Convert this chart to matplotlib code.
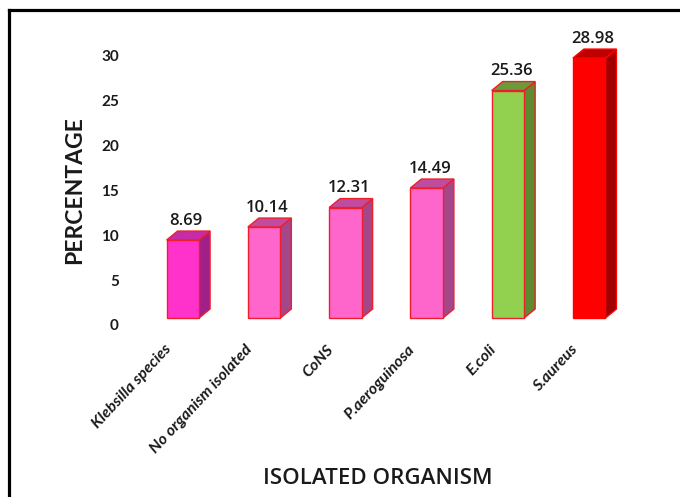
import numpy as np
import matplotlib
matplotlib.use('Agg')
import matplotlib.pyplot as plt
from matplotlib.patches import Polygon
from matplotlib.lines import Line2D
from matplotlib.transforms import ScaledTranslation

plt.rcParams['font.family'] = ['Lato', 'DejaVu Sans']

organisms = ['Klebsilla species', 'No organism isolated', 'CoNS',
             'P.aeroguinosa', 'E.coli', 'S.aureus']
percent = [8.69, 10.14, 12.31, 14.49, 25.36, 28.98]
value_labels = ['8.69', '10.14', '12.31', '14.49', '25.36', '28.98']
front_col = ['#FF33CC', '#FF66CC', '#FF66CC', '#FF66CC', '#92D050', '#FF0000']
top_col = ['#C62CA6', '#C04CA0', '#C04CA0', '#C04CA0', '#6C9A3A', '#C00000']
side_col = ['#A0208A', '#A3468A', '#A3468A', '#A3468A', '#5E8A30', '#A00000']
edge_col = ['#F01E2A'] * 5 + ['#FF0000']
yticks = [0, 5, 10, 15, 20, 25, 30]

W, H = 680, 497
fig = plt.figure(figsize=(W / 100, H / 100), dpi=100)
ax = fig.add_axes([130 / W, (H - 318) / H, 512 / W, 287 / H])
xlim = (-0.65, 5.65)
ylim = (0, 32)
ax.set_xlim(*xlim)
ax.set_ylim(*ylim)

# depth of the fake 3d bars, 11px right and 9px up, in data units
dx = 11 / 512 * (xlim[1] - xlim[0])
dy = 9 / 287 * (ylim[1] - ylim[0])
bw = 0.4

x = np.arange(len(organisms))
ax.bar(x, percent, width=bw, color=front_col, edgecolor=edge_col,
       linewidth=1.0, zorder=3, clip_on=False)
for i, v in enumerate(percent):
    l, r = x[i] - bw / 2, x[i] + bw / 2
    side = Polygon([(r, 0), (r, v), (r + dx, v + dy), (r + dx, dy)],
                   closed=True, facecolor=side_col[i], edgecolor=edge_col[i],
                   linewidth=1.0, zorder=2, clip_on=False)
    top = Polygon([(l, v), (r, v), (r + dx, v + dy), (l + dx, v + dy)],
                  closed=True, facecolor=top_col[i], edgecolor=edge_col[i],
                  linewidth=1.0, zorder=2, clip_on=False)
    ax.add_patch(side)
    ax.add_patch(top)
    ax.text(x[i] + dx * 0.3, v + dy + 0.25, value_labels[i], ha='center',
            va='bottom', fontsize=12, fontweight='semibold',
            family=['Open Sans', 'DejaVu Sans'], color='#1a1a1a', zorder=4)

for s in ax.spines.values():
    s.set_visible(False)
ax.tick_params(length=0)
ax.set_yticks(yticks)
ax.set_yticklabels([str(t) for t in yticks], fontsize=11, fontweight='bold',
                   color='#1a1a1a')
ax.tick_params(axis='y', pad=8)
off_y = ScaledTranslation(0, -0.07, fig.dpi_scale_trans)
for lab in ax.get_yticklabels():
    lab.set_transform(lab.get_transform() + off_y)

ax.set_xticks(x)
ax.set_xticklabels(organisms, rotation=47, ha='right', va='center',
                   rotation_mode='anchor', fontsize=11.5, fontweight='bold',
                   fontstyle='italic', color='#1a1a1a')
ax.tick_params(axis='x', pad=21)
off_x = ScaledTranslation(-0.14, 0, fig.dpi_scale_trans)
for lab in ax.get_xticklabels():
    lab.set_transform(lab.get_transform() + off_x)

fig.text(75 / W, 1 - 190 / H, 'PERCENTAGE', rotation=90, ha='center',
         va='center', fontsize=16.5, fontweight='bold', color='#1a1a1a')
fig.text(378 / W, 1 - 478 / H, 'ISOLATED ORGANISM', ha='center', va='center',
         fontsize=16, fontweight='semibold',
         family=['Open Sans', 'DejaVu Sans'], color='#1a1a1a')

# frame lines on the left and top
fig.add_artist(Line2D([9 / W, 9 / W], [0, 1 - 10 / H], color='black',
                      linewidth=2.3, transform=fig.transFigure))
fig.add_artist(Line2D([9 / W, 1], [1 - 10 / H, 1 - 10 / H], color='black',
                      linewidth=2.3, transform=fig.transFigure))

fig.savefig('out.png', dpi=100)
